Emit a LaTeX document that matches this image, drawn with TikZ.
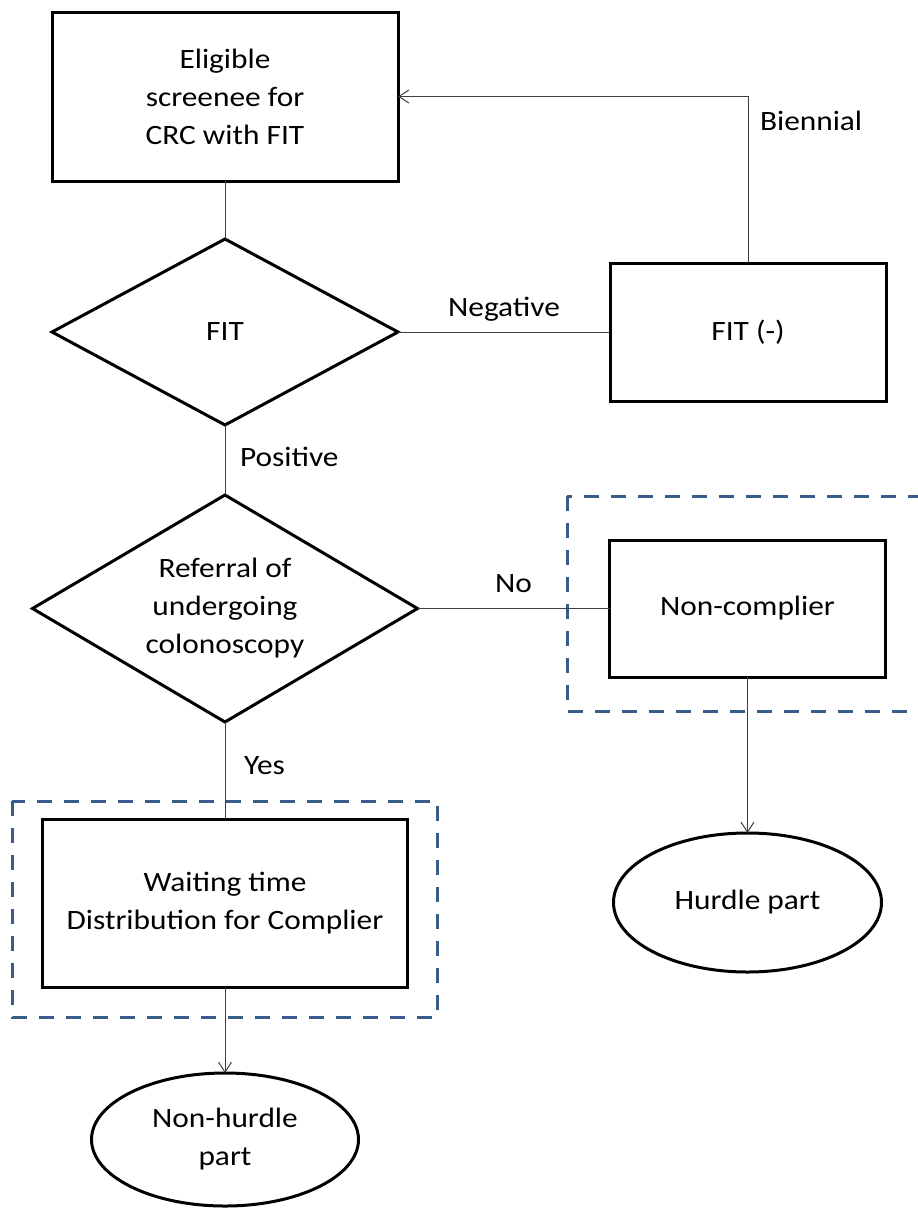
\documentclass[tikz,border=0pt]{standalone}
\usepackage{fontspec}
\setmainfont{Carlito}[FakeStretch=1.12]
\usepackage{xcolor}
\usetikzlibrary{positioning, shapes.geometric, arrows.meta}
\definecolor{dashblue}{RGB}{56,93,138}

\begin{document}
\begin{tikzpicture}[
    x = 1pt, y = -1pt,
    node distance = 58pt,
    font = \fontsize{28}{38}\selectfont,
    every node/.style = {align=center, outer sep=0pt},
    process/.style = {draw, rectangle, line width=3pt, minimum width=346pt, minimum height=169pt},
    decision/.style = {draw, diamond, line width=3pt, inner sep=0pt},
    terminal/.style = {draw, ellipse, line width=3pt},
    link/.style = {draw=black!75, line width=1pt},
    goto/.style = {link, -{Straight Barb[length=10pt, width=13pt]}},
    tag/.style = {draw=none, inner sep=3pt, text height=18pt, text depth=0pt},
    groupbox/.style = {draw=dashblue, line width=3pt, dash pattern=on 15pt off 12pt}
  ]
    \useasboundingbox (0,0) rectangle (918,1210);
    \clip (0,0) rectangle (918,1210);

    % dashed groups
    \draw[groupbox] (567,496) rectangle (935,711);
    \draw[groupbox] (12,801) rectangle (437,1017);

    \node[process] (elig) at (225,96.5) {Eligible\\screenee for\\CRC with FIT};
    \node[decision, minimum width=346pt, minimum height=186pt, below=of elig] (fit) {FIT};
    \node[process, minimum width=276pt, minimum height=138pt, right=212pt of fit] (fitneg) {FIT (-)};
    \node[decision, minimum width=385pt, minimum height=227pt, shape aspect=1.7, below=70pt of fit] (refer) {Referral of\\undergoing\\colonoscopy};
    \node[process, minimum width=276pt, minimum height=137pt, right=192pt of refer] (noncomp) {Non-complier};
    \node[process, minimum width=365pt, minimum height=168pt, below=97pt of refer] (wait) {Waiting time\\Distribution for Complier};
    \node[terminal, minimum width=268pt, minimum height=139pt, below=156pt of noncomp] (hurdle) {Hurdle part};
    \node[terminal, minimum width=267pt, minimum height=133pt, below=86pt of wait] (nonhurdle) {Non-hurdle\\part};

    % connectors
    \draw[link] (elig) -- (fit);
    \draw[link] (fit) -- node[tag, above=13pt] {Negative} (fitneg);
    \draw[goto] (fitneg) |- node[tag, right=9pt, pos=0.426] {Biennial} (elig);
    \draw[link] (fit) -- node[tag, right=12pt, pos=0.47] {Positive} (refer);
    \draw[link] (refer) -- node[tag, above=13pt] {No} (noncomp);
    \draw[link] (refer) -- node[tag, right=16pt, pos=0.45] {Yes} (wait);
    \draw[goto] (noncomp) -- (hurdle);
    \draw[goto] (wait) -- (nonhurdle);
\end{tikzpicture}
\end{document}
